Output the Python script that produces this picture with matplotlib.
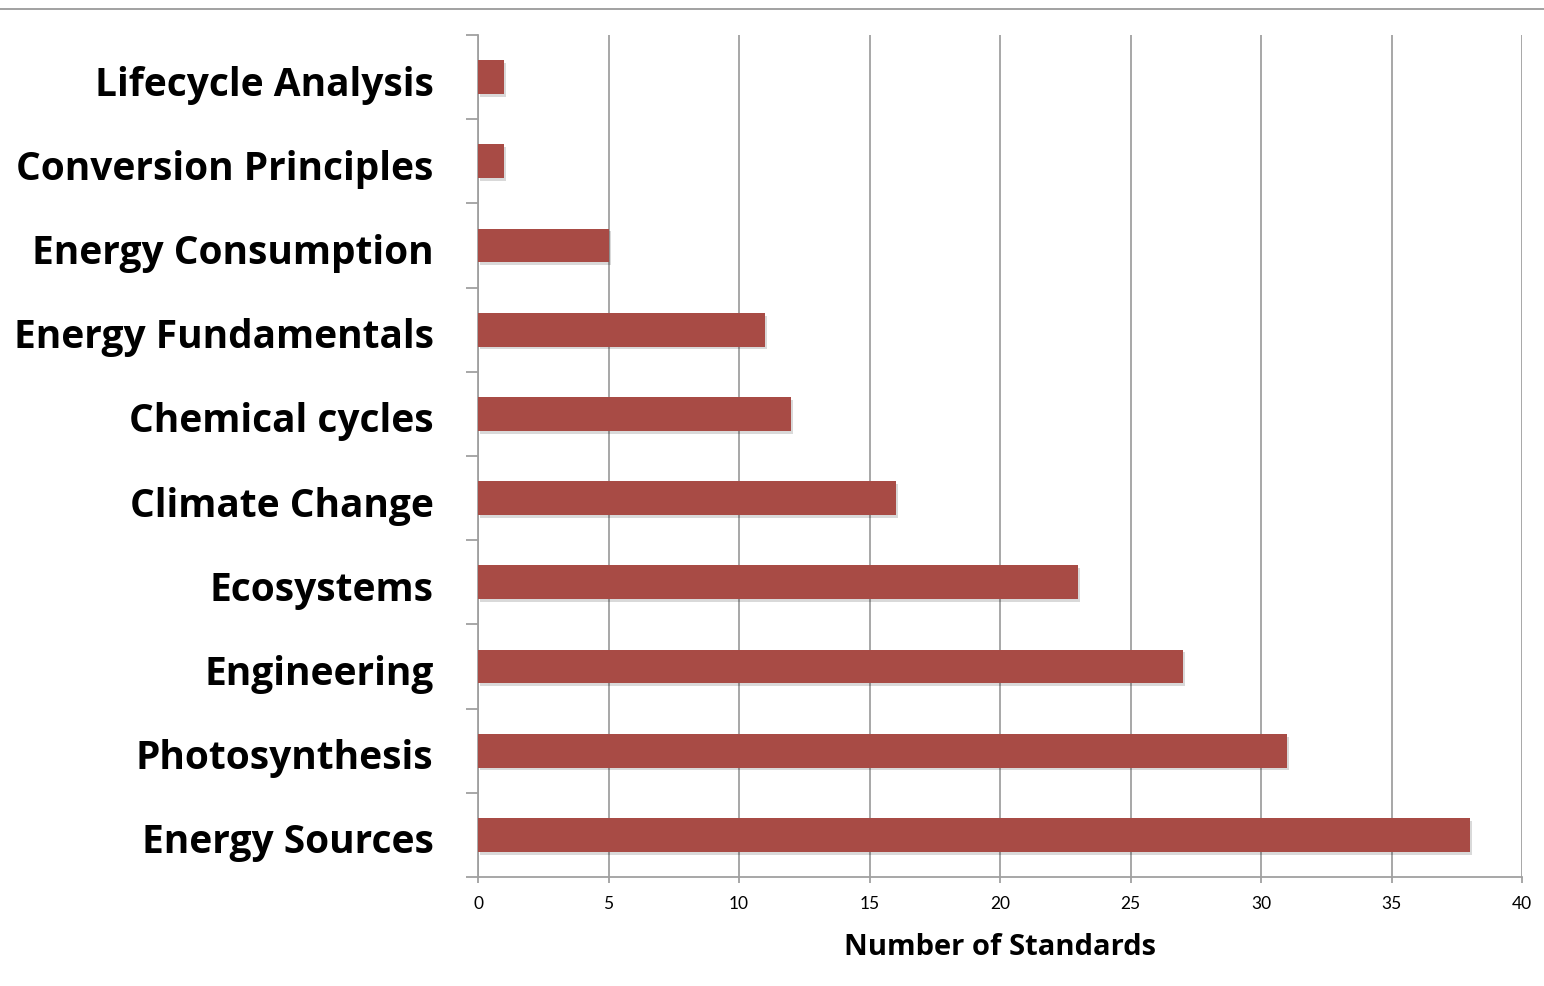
import matplotlib
matplotlib.use("Agg")
import matplotlib.pyplot as plt
from matplotlib.lines import Line2D
from matplotlib.transforms import ScaledTranslation
import matplotlib.patheffects as pe
import numpy as np

categories = ["Energy Sources", "Photosynthesis", "Engineering", "Ecosystems",
              "Climate Change", "Chemical cycles", "Energy Fundamentals",
              "Energy Consumption", "Conversion Principles", "Lifecycle Analysis"]
values = [38, 31, 27, 23, 16, 12, 11, 5, 1, 1]
xticks = [0, 5, 10, 15, 20, 25, 30, 35, 40]

bar_color = "#A84B45"
grid_color = "#A0A0A0"

fig = plt.figure(figsize=(15.44, 9.86), dpi=100)
ax = fig.add_axes([478/1544, 1-877/986, (1522-478)/1544, (877-35)/986])

y = np.arange(len(categories))
bars = ax.barh(y, values, height=0.4, color=bar_color, zorder=3)
for b in bars:
    b.set_path_effects([pe.SimplePatchShadow(offset=(1.5, -2), shadow_rgbFace="#000000", alpha=0.15),
                        pe.Normal()])

ax.set_xlim(0, 40)
ax.set_ylim(-0.5, len(categories)-0.5)
ax.set_xticks(xticks)
ax.set_xticklabels([str(t) for t in xticks], fontfamily="Lato", fontsize=12.5)
ax.set_yticks(y)
ax.set_yticklabels(categories, fontfamily="Open Sans", fontweight="bold", fontsize=28)
ax.set_yticks(np.arange(-0.5, len(categories), 1.0), minor=True)

ax.tick_params(axis="y", which="major", length=0, pad=32)
ax.tick_params(axis="y", which="minor", length=9, width=1.3, color=grid_color, direction="out")
ax.tick_params(axis="x", which="major", length=4, width=1.3, color=grid_color, direction="out", pad=10)

shift = ScaledTranslation(0, -3.5/100, fig.dpi_scale_trans)
for lab in ax.get_yticklabels():
    lab.set_transform(lab.get_transform() + shift)

ax.xaxis.grid(True, color=grid_color, linewidth=1.3, zorder=0)
ax.set_axisbelow(True)
for s in ["top", "right"]:
    ax.spines[s].set_visible(False)
for s in ["left", "bottom"]:
    ax.spines[s].set_color(grid_color)
    ax.spines[s].set_linewidth(1.3)

ax.set_xlabel("Number of Standards", fontfamily="Open Sans", fontweight="bold", fontsize=21, labelpad=15)

fig.add_artist(Line2D([0, 1], [1-9/986, 1-9/986], color="#9A9A9A", linewidth=1.3, transform=fig.transFigure))

fig.savefig("out.png", dpi=100)
